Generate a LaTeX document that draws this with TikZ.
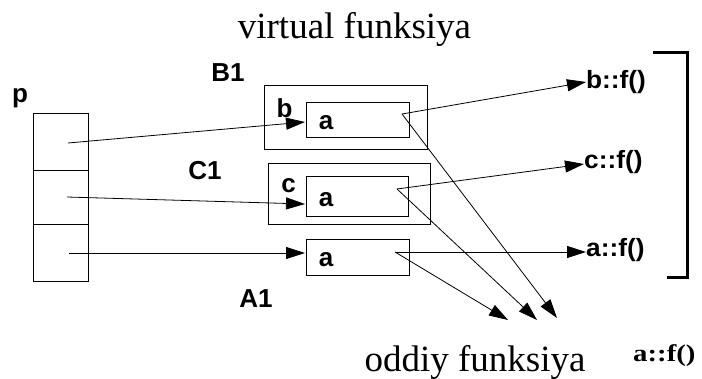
\documentclass[tikz,border=0pt]{standalone}
\usepackage{fontspec}
\setmainfont{Liberation Serif}
\setsansfont{Liberation Sans}
\usetikzlibrary{arrows.meta}
\tikzset{
  box/.style={draw, line width=0.9pt, inner sep=0pt},
  conn/.style={line width=0.8pt, -{Triangle[length=19pt,width=12pt]}},
  lbl/.style={font=\sffamily\bfseries\fontsize{26}{31}\selectfont, inner sep=0pt, anchor=base},
  fn/.style={font=\sffamily\bfseries\fontsize{25}{30}\selectfont, inner sep=0pt, anchor=base west},
  title/.style={font=\rmfamily\fontsize{37}{44}\selectfont, inner sep=0pt, anchor=base},
}
\begin{document}
\begin{tikzpicture}[x=1pt,y=-1pt]
\useasboundingbox (0,0) rectangle (702,379);
% pointer array p
\node[box, minimum width=55pt, minimum height=57pt] (c1) at (60.5,141.5) {};
\node[box, minimum width=55pt, minimum height=54pt] (c2) at (60.5,197) {};
\node[box, minimum width=55pt, minimum height=57pt] (c3) at (60.5,252.5) {};
\node[lbl] (p) at (20,103) {p};
% objects
\node[box, minimum width=163pt, minimum height=64pt] (B1) at (345.5,117) {};
\node[box, minimum width=103pt, minimum height=35pt] (ba) at (357.5,119.5) {};
\node[box, minimum width=162pt, minimum height=61pt] (C1) at (349,193.5) {};
\node[box, minimum width=102pt, minimum height=40pt] (ca) at (357,196) {};
\node[box, minimum width=103pt, minimum height=36pt] (aa) at (357.5,257) {};
\node[lbl] (lB1) at (228,82) {B1};
\node[lbl] (lC1) at (205,180) {C1};
\node[lbl] (lA1) at (256,308) {A1};
\node[lbl] (lb) at (284.5,118) {b};
\node[lbl] (lc) at (288.5,193) {c};
\node[lbl] (a1) at (326,130) {a};
\node[lbl] (a2) at (326,207) {a};
\node[lbl] (a3) at (326,267) {a};
% functions
\node[fn] (bf) at (586,89) {\scalebox{1.05}[1]{b::f()}};
\node[fn] (cf) at (584,169) {\scalebox{1.05}[1]{c::f()}};
\node[fn] (af) at (586,257) {\scalebox{1.05}[1]{a::f()}};
\coordinate (tb) at (586,82);
\coordinate (tc) at (584,164);
\coordinate (ta) at (586,252);
% pointer sources
\coordinate (s1) at (68,143);
\coordinate (s2) at (67,197);
\coordinate (s3) at (69,253);
\coordinate (e1) at (305,122);
\coordinate (e2) at (305,204);
\coordinate (e3) at (305,253);
% object vptr points
\coordinate (bp) at (402,114);
\coordinate (cp) at (397,189);
\coordinate (ap) at (395,252);
\coordinate (d1) at (557,318);
\coordinate (d2) at (537,320);
\coordinate (d3) at (508,320);
\draw[conn] (s1) -- (e1);
\draw[conn] (s2) -- (e2);
\draw[conn] (s3) -- (e3);
\draw[conn] (bp) -- (tb);
\draw[conn] (cp) -- (tc);
\draw[conn] (ap) -- (ta);
\draw[conn] (bp) -- (d1);
\draw[conn] (cp) -- (d2);
\draw[conn] (ap) -- (d3);
% bracket
\draw[line width=3pt] (653,53) -- (687,53) -- (687,278) -- (667,278);
% titles
\node[title] (tv) at (354.5,39) {virtual funksiya};
\node[title] (to) at (475,372) {oddiy funksiya};
\node[font=\rmfamily\bfseries\fontsize{24}{28}\selectfont, inner sep=0pt, anchor=base west] (af2) at (633,362) {\scalebox{1.2}[1]{a::f()}};
\end{tikzpicture}
\end{document}
